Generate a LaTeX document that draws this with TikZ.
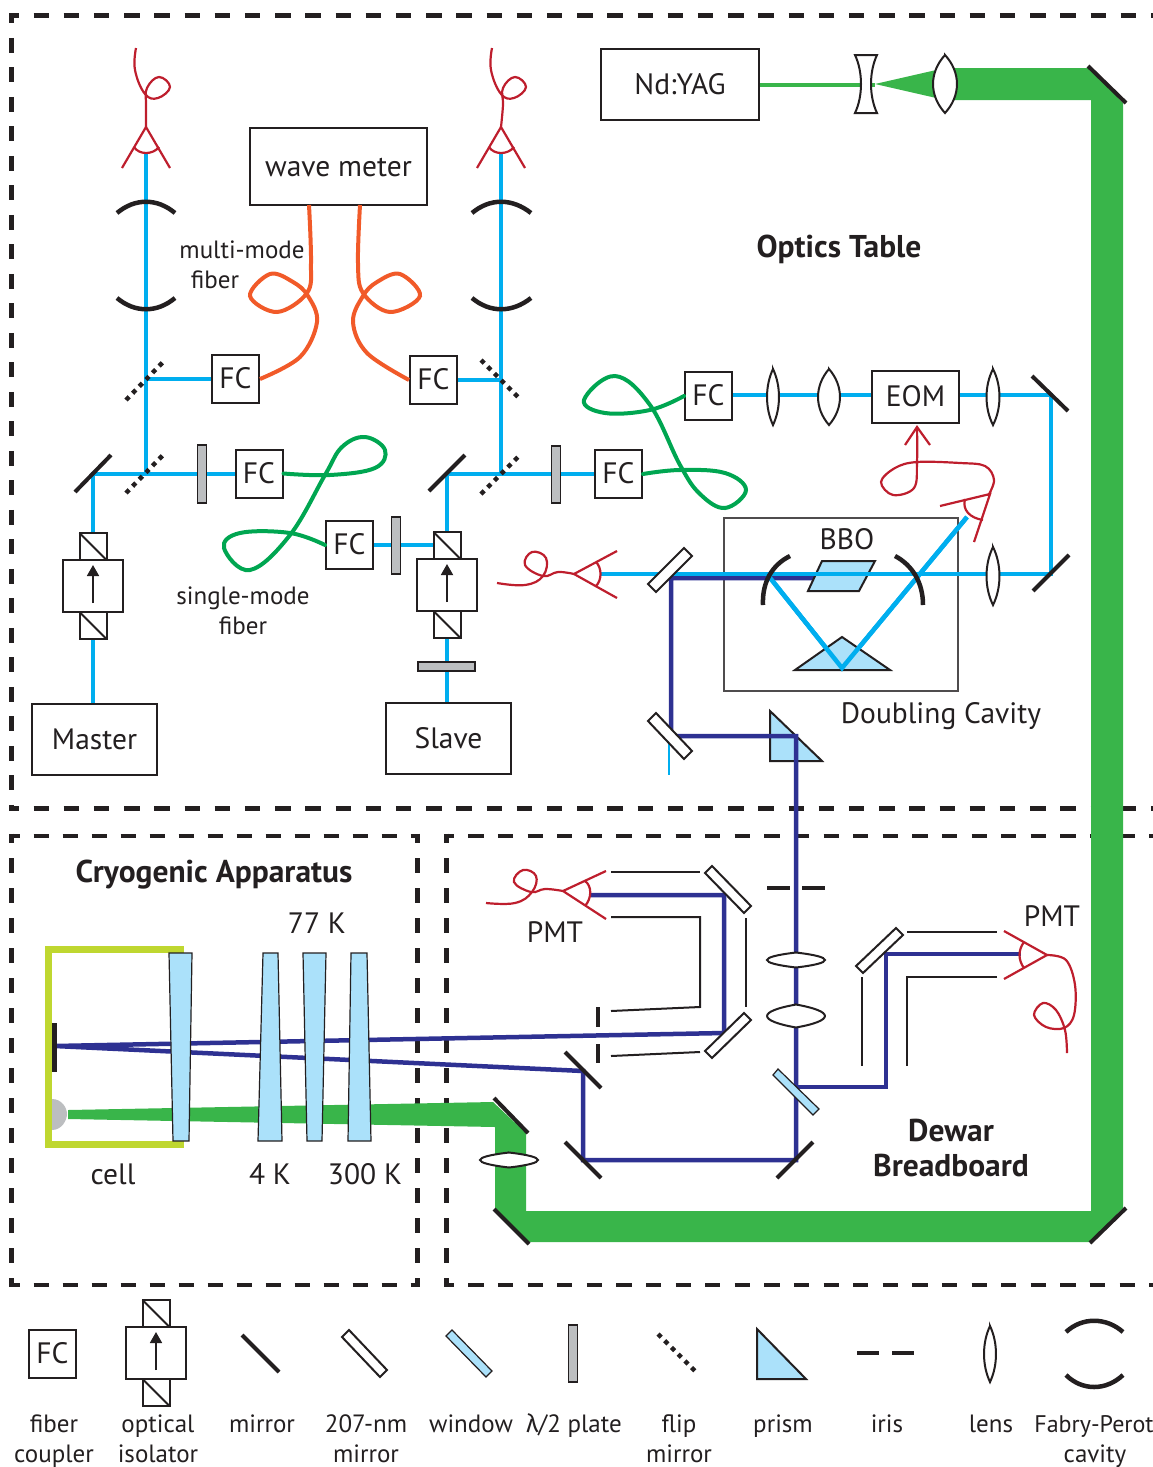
\documentclass[tikz,border=0pt]{standalone}
\usepackage{fontspec}
\setmainfont{PT Sans}
\newfontfamily\gkfont{Fira Sans}
\usetikzlibrary{arrows.meta}
\definecolor{ink}{HTML}{231F20}
\definecolor{bluebeam}{HTML}{00AEEF}
\definecolor{navybeam}{HTML}{2E3192}
\definecolor{greenbeam}{HTML}{39B54A}
\definecolor{greenfib}{HTML}{00A651}
\definecolor{orangefib}{HTML}{F15A29}
\definecolor{redfib}{HTML}{BE1E2D}
\definecolor{glass}{HTML}{ABE1FA}
\definecolor{plategray}{HTML}{BCBEC0}
\definecolor{limecell}{HTML}{BFD730}
\tikzset{
  x=1pt,y=-1pt,
  every node/.style={text=ink,font=\fontsize{29.5}{31}\selectfont,inner sep=0pt,text height=23.5pt,text depth=4.5pt},
  small/.style={font=\fontsize{25}{27}\selectfont,text height=20pt,text depth=4pt},
  heavy/.style={font=\fontsize{31.5}{33}\selectfont\bfseries},
  boxed/.style={draw=ink,line width=2pt,fill=white,minimum width=#1},
  fcbox/.style={draw=ink,line width=2pt,fill=white,minimum width=47pt,minimum height=48pt},
  region/.style={draw=ink,line width=4.8pt},
  topdash/.style={region,dash pattern=on 15.5pt off 14.7pt,dash phase=5.8pt},
  topvdash/.style={region,dash pattern=on 15pt off 14.5pt,dash phase=5.1pt},
  lowdash/.style={region,dash pattern=on 15pt off 14pt,dash phase=4.6pt},
  lowvdash/.style={region,dash pattern=on 15pt off 15pt,dash phase=5.6pt},
  rightdash/.style={region,dash pattern=on 15.3pt off 14.3pt,dash phase=5.4pt},
  bluebm/.style={draw=bluebeam,line width=4.5pt},
  navybm/.style={draw=navybeam,line width=4.5pt},
  greenthin/.style={draw=greenbeam,line width=4pt},
  fibg/.style={draw=greenfib,line width=4pt,line cap=round},
  fibo/.style={draw=orangefib,line width=4pt},
  fibr/.style={draw=redfib,line width=2.2pt},
  mirrorst/.style={draw=ink,line width=4pt},
  curvem/.style={draw=ink,line width=4.5pt},
  thinl/.style={draw=ink,line width=2pt},
  flipm/.style={draw=ink,line width=4.5pt,dash pattern=on 4.5pt off 5pt},
  uvm/.style={draw=ink,line width=2pt,fill=white},
  glassst/.style={draw=ink,line width=1.2pt,fill=glass},
  platest/.style={draw=ink,line width=1.6pt,fill=plategray},
  lensline/.style={draw=ink,line width=2pt,fill=white},
  lensshape/.pic={\draw[lensline] (0,-1) .. controls (1.33,-.4) and (1.33,.4) .. (0,1) .. controls (-1.33,.4) and (-1.33,-.4) .. cycle;},
  isoshape/.pic={
    \draw[thinl,fill=white] (-13.5,-53) rectangle (13.5,-26);
    \draw[thinl] (-13.5,-53) -- (13.5,-26);
    \draw[thinl,fill=white] (-13.5,26) rectangle (13.5,53);
    \draw[thinl] (-13.5,26) -- (13.5,53);
    \draw[thinl,fill=white] (-30,-26) rectangle (30,26);
    \draw[draw=ink,line width=1.8pt,-{Triangle[length=11pt,width=12pt]}] (0,17) -- (0,-21);
  },
}
\begin{document}
\begin{tikzpicture}
\useasboundingbox (0,0) rectangle (1153,1467);
% regions
\draw[topdash] (9.1,15.8) -- (1153,15.8);
\draw[topdash] (9.1,808.7) -- (1153,808.7);
\draw[topvdash] (11.5,13.4) -- (11.5,811.1);
\draw[lowdash] (9.1,836) -- (419.9,836);
\draw[lowdash] (9.1,1285) -- (419.9,1285);
\draw[lowvdash] (11.5,833.6) -- (11.5,1287.4);
\draw[lowvdash] (417.5,833.6) -- (417.5,1287.4);
\draw[rightdash] (444.1,836) -- (1153,836);
\draw[rightdash] (444.1,1285) -- (1153,1285);
\draw[lowvdash] (446.5,833.6) -- (446.5,1287.4);

% main green beam
\fill[greenbeam] (875,84) -- (945,68) -- (1090,68) -- (1123,103) -- (1123,1208) -- (1090,1242) -- (527,1242) -- (495,1209) -- (495,1127) -- (68,1119) -- (68,1110) -- (493,1102) -- (526,1133) -- (526,1211) -- (1091,1211) -- (1091,100) -- (945,100) -- cycle;

% boxes
\node[boxed=158pt,minimum height=71pt] (yag) at (680,84.5) {Nd:YAG};
\node[boxed=177pt,minimum height=77pt] (wm) at (338.5,166.5) {wave meter};
\node[boxed=125pt,minimum height=71pt] (master) at (94.5,739.5) {Master};
\node[boxed=125pt,minimum height=71pt] (slave) at (448.5,738.5) {Slave};
\node[boxed=87pt,minimum height=52pt] (eom) at (915.5,397) {EOM};

% coordinates
\coordinate (mA) at (93,474);
\coordinate (fA1) at (146,474);
\coordinate (fA2) at (146,379);
\coordinate (detA) at (146,153);
\coordinate (mB) at (447,474);
\coordinate (fB1) at (501,474);
\coordinate (fB2) at (501,380);
\coordinate (detB) at (501,153);
\coordinate (mC) at (1051,395);
\coordinate (mD) at (1051,574);
\coordinate (detC) at (601,574);
\coordinate (cavL) at (767,574);
\coordinate (cavR) at (919,574);
\coordinate (cavB) at (842,668);
\coordinate (detD) at (967,517);
\coordinate (uvA) at (671,578);
\coordinate (uvB) at (671,736);
\coordinate (prC) at (796,736);
\coordinate (bbo) at (815,578);
\coordinate (mE) at (796,1160);
\coordinate (mF) at (583,1160);
\coordinate (mG) at (583,1071);
\coordinate (cellM) at (55,1046);
\coordinate (uvC) at (724,1033);
\coordinate (uvD) at (724,895);
\coordinate (detE) at (591,895);
\coordinate (winA) at (796,1087);
\coordinate (brA) at (886,1087);
\coordinate (brB) at (886,954);
\coordinate (detF) at (1021,954);

% FC nodes
\node[fcbox] (fc1) at (235.5,379) {FC};
\node[fcbox] (fc2) at (433.5,380) {FC};
\node[fcbox] (fc3) at (259,473.5) {FC};
\node[fcbox] (fc4) at (618.5,474) {FC};
\node[fcbox] (fc5) at (349.5,545) {FC};
\node[fcbox] (fc6) at (708.5,396) {FC};

% blue beams
\draw[bluebm] (master.north -| mA) -- (mA) -- (fc3.west |- mA);
\draw[bluebm] (fA1) -- (detA);
\draw[bluebm] (fA2) -- (fc1.west);
\draw[bluebm] (slave.north -| mB) -- (mB) -- (fc4.west);
\draw[bluebm] (fB1) -- (detB);
\draw[bluebm] (fB2) -- (fc2.east);
\draw[bluebm] (fc5.east) -- (447,545);
\draw[bluebm] (fc6.east |- mC) -- (eom.west |- mC);
\draw[bluebm] (eom.east |- mC) -- (mC) -- (mD) -- (detC);
\draw[bluebm] (cavL) -- (cavB) -- (detD);
\draw[draw=bluebeam,line width=1.6pt] (669,736) -- (669,775);

% doubling cavity
\draw[draw=ink!80,line width=1.1pt] (724,518) rectangle (958,691);
\node (bbol) at (847,540) {BBO};
\node (dcl) at (941,714) {Doubling Cavity};
\draw[glassst,line width=2pt] (770,711) -- (822,761) -- (770,761) -- cycle;
\draw[glassst,line width=2pt] (795,670) -- (842,637) -- (890,670) -- cycle;

% navy
\draw[navybm] (bbo) -- (uvA) -- (uvB) -- (prC) -- (mE) -- (mF) -- (mG) -- (cellM) -- (uvC) -- (uvD) -- (detE);
\draw[navybm] (winA) -- (brA) -- (brB) -- (detF);

% re-draw blue above cavity parts
\draw[glassst,line width=2pt] (822,561) -- (875,561) -- (859,591) -- (808,591) -- cycle;
\draw[bluebm] (detC) -- (mD);
\draw[bluebm] (cavL) -- (cavB) -- (detD);

% cavity mirrors
\draw[curvem] (790,556) .. controls (772,565) and (762,582) .. (763,605);
\draw[curvem] (895,556) .. controls (912,565) and (923,582) .. (923,605);
\draw[curvem] (117,213) .. controls (135,198) and (157,198) .. (175,213);
\draw[curvem] (117,298) .. controls (135,313) and (157,313) .. (175,298);
\draw[curvem] (472,213) .. controls (490,198) and (512,198) .. (531,213);
\draw[curvem] (472,298) .. controls (490,313) and (512,313) .. (531,298);

% nd:yag beam and telescope
\draw[greenthin] (yag.east) -- (875,84.5);
\draw[thinl,fill=white] (855,55) -- (877,55) .. controls (869,72) and (869,96) .. (877,113) -- (855,113) .. controls (863,96) and (863,72) .. cycle;
\pic[xscale=12,yscale=29] at (945,84) {lensshape};

% plain mirrors
\foreach \a/\b in {{75,492}/{111,455},{429,491}/{465,455},{1032,376}/{1068,411},{1033,591}/{1069,555},{1088,66}/{1126,103},{1090,1243}/{1126,1208},{494,1209}/{529,1244},{494,1098}/{528,1133},{565,1052}/{601,1088},{565,1142}/{601,1178},{777,1178}/{813,1142}}{
  \draw[mirrorst] (\a) -- (\b);
}
% flip mirrors
\draw[flipm] (126,493) -- (165,453);
\draw[flipm] (126,400) -- (165,360);
\draw[flipm] (481,494) -- (521,454);
\draw[flipm] (481,360) -- (521,400);

% half-wave plates
\draw[platest] (197.5,445) rectangle (206.5,503);
\draw[platest] (551.5,446) rectangle (560.5,503);
\draw[platest] (391.5,517) rectangle (400.5,574);
\draw[platest] (418,662) rectangle (475,671);

% isolators
\pic at (93,586) {isoshape};
\pic at (447,585) {isoshape};

% lenses
\pic[xscale=6,yscale=28] at (773,397) {lensshape};
\pic[xscale=11,yscale=28] at (829,397) {lensshape};
\pic[xscale=6.5,yscale=28] at (993,397) {lensshape};
\pic[xscale=6.5,yscale=29] at (993,576) {lensshape};
\pic[xscale=29,yscale=7.5] at (796,960) {lensshape};
\pic[xscale=29,yscale=11.5] at (796,1016) {lensshape};
\pic[xscale=29,yscale=7.5] at (509,1160) {lensshape};

% uv mirrors
\draw[uvm] (692,556) -- (684,548) -- (648,584) -- (656,592) -- cycle;
\draw[uvm] (692,751) -- (684,759) -- (648,721) -- (656,713) -- cycle;
\draw[uvm] (751,906) -- (744,913) -- (705,873) -- (712,866) -- cycle;
\draw[uvm] (751,1020) -- (744,1013) -- (705,1051) -- (712,1058) -- cycle;
\draw[uvm] (903,935) -- (896,928) -- (856,966) -- (863,973) -- cycle;
% window on dewar breadboard
\draw[glassst] (778,1069) -- (773,1075) -- (813,1115) -- (819,1109) -- cycle;

% uv guide lines
\draw[thinl] (611,872) -- (700,872);
\draw[thinl] (611,917) -- (700,917) -- (700,1007) -- (611,1011);
\draw[thinl] (746,918) -- (746,1007);
\draw[thinl] (611,1056) -- (700,1052);
\draw[thinl] (907,932) -- (997,932);
\draw[thinl] (997,977) -- (907,977) -- (907,1066);
\draw[thinl] (862,977) -- (862,1066);

% irises
\draw[mirrorst] (598,1007) -- (598,1027);
\draw[mirrorst] (598,1044) -- (598,1063);
\draw[mirrorst] (767,888) -- (790,888);
\draw[mirrorst] (802,888) -- (825,888);

% cryogenic apparatus
\draw[draw=limecell,line width=7.4pt] (184,949.5) -- (48.5,949.5) -- (48.5,1144.5) -- (184,1144.5);
\draw[draw=ink,line width=5pt] (54.5,1023) -- (54.5,1072);
\fill[plategray] (52,1099) .. controls (62,1099) and (67,1108) .. (67,1114) .. controls (67,1120) and (62,1130) .. (52,1130) -- cycle;
\draw[glassst] (169,953) -- (192,953) -- (189,1141) -- (173,1141) -- cycle;
\draw[glassst] (263,953) -- (278,953) -- (282,1141) -- (258,1141) -- cycle;
\draw[glassst] (303,953) -- (326,953) -- (322,1141) -- (307,1141) -- cycle;
\draw[glassst] (351,953) -- (367,953) -- (371,1141) -- (348,1141) -- cycle;

% red detectors
\draw[fibr] (122,168) -- (146,127) -- (170,168);
\draw[fibr] (134,147) .. controls (139,155) and (153,155) .. (159,147);
\draw[fibr] plot[smooth,tension=.7] coordinates {(146,127) (146,105) (147,88) (159,77) (170,87) (158,98) (145,94) (135,70) (136,48)};
\draw[fibr] (477,168) -- (501,127) -- (525,168);
\draw[fibr] (489,147) .. controls (494,155) and (508,155) .. (514,147);
\draw[fibr] plot[smooth,tension=.7] coordinates {(501,127) (503,105) (503,88) (515,77) (526,87) (514,98) (501,94) (491,70) (492,48)};
\draw[fibr] (617,551) -- (574,574) -- (617,598);
\draw[fibr] (596,562) .. controls (602,568) and (602,580) .. (596,586);
\draw[fibr] plot[smooth,tension=.7] coordinates {(574,574) (558,572) (543,576) (525,565) (532,552) (546,558) (543,576) (525,585) (497,583)};
\draw[fibr] (940,506) -- (990,494) -- (974,542);
\draw[fibr] (965,499) .. controls (962,510) and (970,518) .. (983,520);
\draw[fibr] plot[smooth,tension=.6] coordinates {(988,496) (994,480) (985,466) (960,463) (917,462) (895,468) (881,482) (893,495) (914,488) (917,462) (917,427)};
\draw[fibr] (905,445) -- (917,427) -- (930,445);
\draw[fibr] (606,871) -- (563,891) -- (606,919);
\draw[fibr] (585,881) .. controls (592,886) and (592,898) .. (585,906);
\draw[fibr] plot[smooth,tension=.7] coordinates {(563,891) (545,889) (531,892) (514,882) (523,870) (536,876) (532,892) (515,903) (486,903)};
\draw[fibr] (1004,931) -- (1047,955) -- (1004,979);
\draw[fibr] (1024,942) .. controls (1018,950) and (1018,960) .. (1024,968);
\draw[fibr] plot[smooth,tension=.6] coordinates {(1047,955) (1066,960) (1075,985) (1074,1015) (1064,1028) (1046,1027) (1034,1015) (1043,1003) (1056,1010) (1065,1030) (1067,1053)};

% fibers
\draw[fibo] plot[smooth,tension=.6] coordinates {(309,205) (311,263) (307,293) (277,312) (250,296) (270,274) (293,282) (308,296) (317,322) (300,357) (fc1.east)};
\draw[fibo] plot[smooth,tension=.6] coordinates {(360,205) (358,263) (363,293) (390,312) (420,296) (400,274) (377,282) (363,296) (353,322) (367,353) (fc2.west)};
\draw[fibg] plot[smooth,tension=.65] coordinates {(fc3.east) (330,475) (375,468) (385,450) (365,437) (342,447) (325,475) (290,535) (250,570) (224,548) (240,533) (290,533) (fc5.west)};
\draw[fibg] plot[smooth,tension=.65] coordinates {(fc4.east) (680,470) (725,473) (746,490) (725,508) (700,494) (680,465) (650,405) (615,376) (584,400) (605,413) (650,410) (fc6.west)};

% labels
\node[heavy] (l1) at (839,248) {Optics Table};
\node[small] (l2) at (242,250) {multi-mode};
\node[small] (l3) at (215,280) {fiber};
\node[small] (l4) at (243,596) {single-mode};
\node[small] (l5) at (243,626) {fiber};
\node[heavy] (l6) at (214,873) {Cryogenic Apparatus};
\node (l7) at (317,924) {77 K};
\node (l8) at (113,1175) {cell};
\node (l9) at (270,1175) {4 K};
\node (l10) at (365,1175) {300 K};
\node (l11) at (555,933) {PMT};
\node (l12) at (1052,917) {PMT};
\node[heavy] (l13) at (951,1132) {Dewar};
\node[heavy] (l14) at (951,1167) {Breadboard};

% legend
\node[fcbox] (lfc) at (52.5,1353.5) {FC};
\pic at (156,1353) {isoshape};
\draw[mirrorst] (242,1335) -- (279,1372);
\draw[uvm] (349,1330) -- (342,1337) -- (380,1377) -- (387,1370) -- cycle;
\draw[glassst] (452,1330) -- (446,1336) -- (486,1377) -- (492,1371) -- cycle;
\draw[platest] (568.5,1325) rectangle (577.5,1382);
\draw[flipm] (658,1334) -- (698,1374);
\draw[glassst,line width=2pt] (757,1329) -- (806,1379) -- (757,1379) -- cycle;
\draw[mirrorst] (857,1353) -- (879,1353);
\draw[mirrorst] (892,1353) -- (914,1353);
\pic[xscale=6,yscale=28] at (990,1354) {lensshape};
\draw[curvem] (1066,1332) .. controls (1082,1317) and (1106,1317) .. (1123,1332);
\draw[curvem] (1066,1375) .. controls (1082,1391) and (1106,1391) .. (1123,1375);
\foreach \n/\x/\y/\t in {a/54/1424/fiber,b/54/1454/coupler,c/158/1424/optical,d/158/1454/isolator,e/262/1424/mirror,f/366/1424/207-nm,g/366/1454/mirror,h/471/1424/window,j/679/1424/flip,k/679/1454/mirror,m/783/1424/prism,n/887/1424/iris,o/991/1424/lens,q/1095/1454/cavity}{
  \node[small] (leg\n) at (\x,\y) {\t};
}
\node[small] (legl) at (574,1424) {{\gkfont λ}/2 plate};
\node[small,font=\fontsize{24}{26}\selectfont] (legp) at (1094,1424) {Fabry-Perot};
\end{tikzpicture}
\end{document}
